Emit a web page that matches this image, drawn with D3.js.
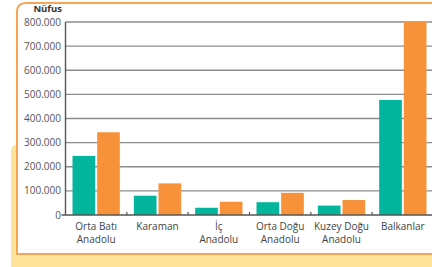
<!DOCTYPE html>
<html>
<head>
<meta charset="utf-8">
<script src="https://cdn.jsdelivr.net/npm/d3@7"></script>
<style>
  body { margin: 0; background: #fff; }
  svg { display: block; }
  text { font-family: "Open Sans", sans-serif; }
</style>
</head>
<body>
<svg width="432" height="267"></svg>
<script>
var regions = [["Orta Batı", "Anadolu"], ["Karaman"], ["İç", "Anadolu"], ["Orta Doğu", "Anadolu"], ["Kuzey Doğu", "Anadolu"], ["Balkanlar"]],
    regionKeys = ["ortaBati", "karaman", "ic", "ortaDogu", "kuzeyDogu", "balkanlar"],
    tealValues = [245000, 80000, 30000, 53000, 39000, 477000],
    orangeValues = [343000, 131000, 55000, 92000, 62000, 800000],
    yTicks = [0, 100000, 200000, 300000, 400000, 500000, 600000, 700000, 800000];

var svg = d3.select("svg"),
    plotLeft = 65.5, plotRight = 433.5, plotTop = 22, plotBottom = 215;

// yellow backdrop and orange frame
svg.append("path")
    .attr("d", "M11,152 Q11,144 19,144 L440,144 L440,267 L11,267 Z")
    .attr("fill", "#fee39a");
svg.append("path")
    .attr("d", "M17,254 L17,12 Q17,3 26,3 L440,3 L440,254 Z")
    .attr("fill", "#fff")
    .attr("stroke", "#f8a553")
    .attr("stroke-width", 2);

var x0 = d3.scaleBand().domain(regionKeys).range([plotLeft, plotRight]).padding(0),
    x1 = d3.scaleBand().domain(["teal", "orange"]).range([7, x0.bandwidth() - 7]).paddingInner(0.08),
    y = d3.scaleLinear().domain([0, 800000]).range([plotBottom, plotTop]);

var fmt = function(v) { return v === 0 ? "0" : d3.format(",")(v).replace(/,/g, "."); };

// gridlines
svg.append("g").selectAll("line")
    .data(yTicks.slice(1))
    .enter().append("line")
    .attr("x1", plotLeft).attr("x2", 432)
    .attr("y1", function(d) { return y(d); })
    .attr("y2", function(d) { return y(d); })
    .attr("stroke", "#8c8c8c")
    .attr("stroke-width", 1.4);

// y tick labels
svg.append("g").selectAll("text")
    .data(yTicks)
    .enter().append("text")
    .attr("x", 61)
    .attr("y", function(d) { return y(d) + 3.5; })
    .attr("text-anchor", "end")
    .attr("font-size", 10)
    .attr("fill", "#555")
    .text(fmt);

svg.append("text")
    .attr("x", 62).attr("y", 12)
    .attr("text-anchor", "end")
    .attr("font-size", 9.5)
    .attr("font-weight", "bold")
    .attr("fill", "#333")
    .text("Nüfus");

// bars
var groups = svg.append("g").selectAll("g")
    .data(regionKeys)
    .enter().append("g")
    .attr("transform", function(d) { return "translate(" + x0(d) + ",0)"; });

groups.append("rect")
    .attr("x", x1("teal"))
    .attr("width", x1.bandwidth())
    .attr("y", function(d, i) { return y(tealValues[i]); })
    .attr("height", function(d, i) { return plotBottom - y(tealValues[i]); })
    .attr("fill", "#03b59c");

groups.append("rect")
    .attr("x", x1("orange"))
    .attr("width", x1.bandwidth())
    .attr("y", function(d, i) { return y(orangeValues[i]); })
    .attr("height", function(d, i) { return plotBottom - y(orangeValues[i]); })
    .attr("fill", "#f7923a");

// axes lines
svg.append("line")
    .attr("x1", plotLeft).attr("x2", plotLeft)
    .attr("y1", plotTop).attr("y2", plotBottom)
    .attr("stroke", "#555").attr("stroke-width", 1.4);
svg.append("line")
    .attr("x1", plotLeft - 4).attr("x2", 432)
    .attr("y1", plotBottom).attr("y2", plotBottom)
    .attr("stroke", "#555").attr("stroke-width", 1.4);

// category separator ticks
svg.append("g").selectAll("line")
    .data(regionKeys.slice(1))
    .enter().append("line")
    .attr("x1", function(d) { return x0(d); })
    .attr("x2", function(d) { return x0(d); })
    .attr("y1", plotBottom - 3).attr("y2", plotBottom)
    .attr("stroke", "#555").attr("stroke-width", 1.2);

// category labels
groups.append("text")
    .attr("x", x0.bandwidth() / 2)
    .attr("y", 230)
    .attr("text-anchor", "middle")
    .attr("font-size", 10)
    .attr("fill", "#444")
    .each(function(d, i) {
        var t = d3.select(this);
        regions[i].forEach(function(line, j) {
            t.append("tspan")
                .attr("x", x0.bandwidth() / 2)
                .attr("dy", j === 0 ? 0 : 13)
                .text(line);
        });
    });
</script>
</body>
</html>
